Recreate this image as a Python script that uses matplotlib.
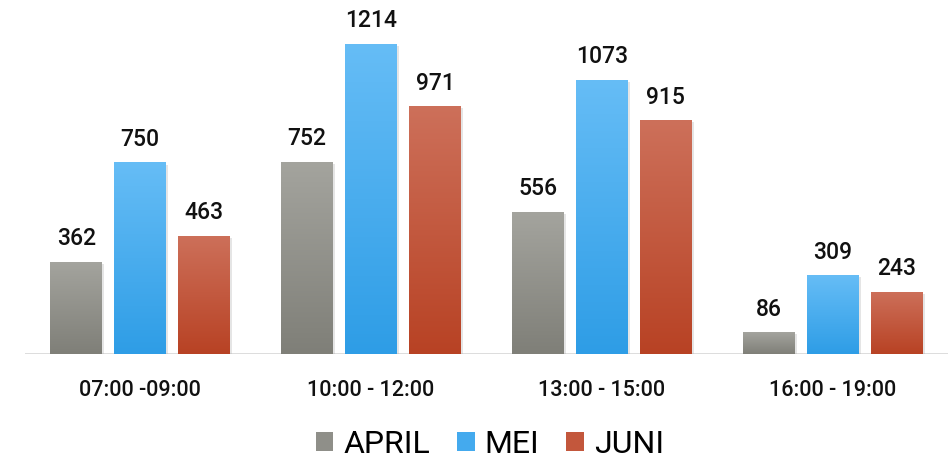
import numpy as np
import matplotlib.pyplot as plt
import matplotlib.patheffects as pe
from matplotlib.colors import LinearSegmentedColormap
from matplotlib.patches import Patch

plt.rcParams['font.family'] = ['Roboto', 'DejaVu Sans']

categories = ['07:00 -09:00', '10:00 - 12:00', '13:00 - 15:00', '16:00 - 19:00']
series = ['APRIL', 'MEI', 'JUNI']
april = [362, 752, 556, 86]
mei = [750, 1214, 1073, 309]
juni = [463, 971, 915, 243]

# gradient colours (top, bottom) per series
grads = [('#a4a49e', '#7f7f78'), ('#66bdf6', '#2e9de6'), ('#cd705a', '#b84224')]
legend_colors = ['#8f8f89', '#44aaee', '#c3573c']

fig = plt.figure(figsize=(9.51, 4.59), dpi=100)
ax = fig.add_axes([0.026, 0.2288, 0.971, 0.7233])

x = np.arange(len(categories))
width = 0.225
offset = 0.277

for i, (vals, name) in enumerate(zip([april, mei, juni], series)):
    top, bottom = grads[i]
    cmap = LinearSegmentedColormap.from_list(name, [bottom, top])
    bars = ax.bar(x + (i - 1) * offset, vals, width, color=top, zorder=2,
                  path_effects=[pe.SimplePatchShadow(offset=(1.5, -1.5), shadow_rgbFace='#aaaaaa', alpha=0.3), pe.Normal()])
    for b, v in zip(bars, vals):
        grad = np.linspace(0, 1, 256).reshape(-1, 1)
        im = ax.imshow(grad, cmap=cmap, aspect='auto', origin='lower',
                       extent=[b.get_x(), b.get_x() + b.get_width(), 0, v], zorder=3)
        im.set_clip_path(b)
        ax.text(b.get_x() + b.get_width() / 2, v + 45, str(v), ha='center', va='bottom',
                fontsize=16.5, fontweight='medium', color='#111111')

ax.set_xlim(-0.5, 3.5)
ax.set_ylim(0, 1300)
ax.axhline(0, color='#d9d9d9', lw=2, zorder=1)
for s in ax.spines.values():
    s.set_visible(False)
ax.set_yticks([])
ax.set_xticks(x)
ax.set_xticklabels(categories, fontsize=15.5, fontweight='medium', color='#111111')
ax.tick_params(axis='x', length=0, pad=19)

handles = [Patch(facecolor=c, label=s) for c, s in zip(legend_colors, series)]
fig.legend(handles=handles, loc='center', bbox_to_anchor=(0.515, 0.032), ncol=3, frameon=False,
           fontsize=23, handlelength=0.56, handleheight=0.56, handletextpad=0.3, columnspacing=0.85)

fig.savefig('out.png', dpi=100)
